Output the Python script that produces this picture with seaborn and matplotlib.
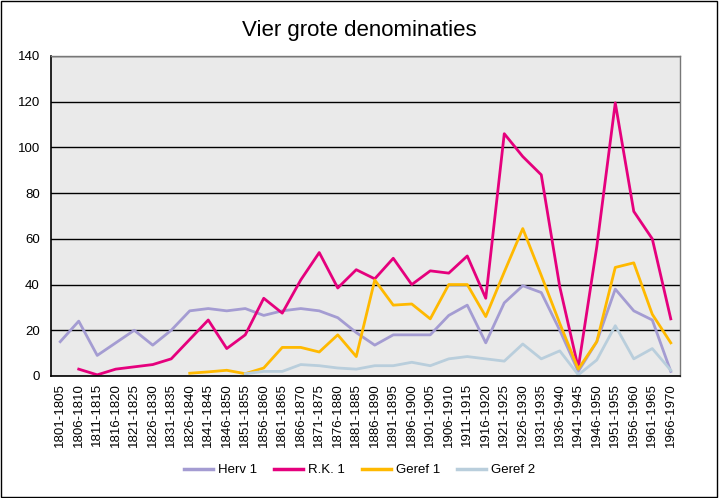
import pandas as pd
import numpy as np
import matplotlib
matplotlib.use("Agg")
import matplotlib.pyplot as plt
import seaborn as sb

# DATA
#-----------------------------------
periods = ["1801-1805", "1806-1810", "1811-1815", "1816-1820", "1821-1825",
           "1826-1830", "1831-1835", "1826-1840", "1841-1845", "1846-1850",
           "1851-1855", "1856-1860", "1861-1865", "1866-1870", "1871-1875",
           "1876-1880", "1881-1885", "1886-1890", "1891-1895", "1896-1900",
           "1901-1905", "1906-1910", "1911-1915", "1916-1920", "1921-1925",
           "1926-1930", "1931-1935", "1936-1940", "1941-1945", "1946-1950",
           "1951-1955", "1956-1960", "1961-1965", "1966-1970"]

herv1 = [15, 24, 9, 14.5, 20, 13.5, 20, 28.5, 29.5, 28.5,
         29.5, 26.5, 28.5, 29.5, 28.5, 25.5, 19, 13.5, 18, 18,
         18, 26.5, 31, 14.5, 32, 39.5, 36.5, 20, 2, 15,
         38, 28.5, 24.5, 2]

rk1 = [None, 3, 0.5, 3, 4, 5, 7.5, 16, 24.5, 12,
       18, 34, 27.5, 42, 54, 38.5, 46.5, 42.5, 51.5, 40,
       46, 45, 52.5, 34, 106, 96, 88, 39, 3.5, 56.5,
       119.5, 72, 60, 25]

geref1 = [None, None, None, None, None, None, None, 1.2, 1.8, 2.5,
          1, 3.5, 12.5, 12.5, 10.5, 18, 8.5, 42, 31, 31.5,
          25, 40, 40, 26, 45.5, 64.5, 44, 23, 3, 15,
          47.5, 49.5, 27, 14.5]

geref2 = [None, None, None, None, None, None, None, None, None, None,
          1, 2, 2, 5, 4.5, 3.5, 3, 4.5, 4.5, 6,
          4.5, 7.5, 8.5, 7.5, 6.5, 14, 7.5, 11, 0.5, 7,
          22, 7.5, 12, 2.5]

series = {"Herv 1": herv1, "R.K. 1": rk1, "Geref 1": geref1, "Geref 2": geref2}
colors = {"Herv 1": "#A49CD2", "R.K. 1": "#E5007D", "Geref 1": "#FFB900", "Geref 2": "#B9CEDC"}

# BUILD TABLE
#-----------------------------------
rows = []
for name, vals in series.items():
    for i, v in enumerate(vals):
        rows.append({"pos": i, "value": v, "serie": name})
df = pd.DataFrame(rows).dropna()

# PLOT
#-----------------------------------
plt.rcParams["font.family"] = ["Liberation Sans", "DejaVu Sans"]
fig = plt.figure(figsize=(7.19, 4.98), dpi=100)
ax = fig.add_axes([0.0709, 0.245, 0.8749, 0.6426])
ax.set_facecolor("#EAEAEA")

sb.lineplot(data=df, x="pos", y="value", hue="serie", palette=colors,
            hue_order=list(series.keys()), linewidth=2.0, ax=ax, legend=False)

ax.set_xlim(-0.5, len(periods) - 0.5)
ax.set_ylim(0, 140)
ax.set_yticks(range(0, 141, 20))
ax.set_xticks(range(len(periods)))
ax.set_xticklabels(periods, rotation=90, fontsize=9.5)
ax.tick_params(axis="y", labelsize=9.5, length=0, pad=8)
ax.tick_params(axis="x", length=0, pad=5)
ax.set_xlabel("")
ax.set_ylabel("")
ax.yaxis.grid(True, color="black", linewidth=1.0)
ax.set_axisbelow(True)
for s in ["left", "bottom"]:
    ax.spines[s].set_color("black")
    ax.spines[s].set_linewidth(1.2)
for s in ["top", "right"]:
    ax.spines[s].set_color("#777777")
    ax.spines[s].set_linewidth(1.0)

fig.suptitle("Vier grote denominaties", y=0.96, fontsize=16)

handles = [plt.Line2D([], [], color=colors[k], linewidth=2.5) for k in series]
fig.legend(handles, list(series.keys()), loc="center", bbox_to_anchor=(0.5, 0.056),
           ncol=4, frameon=False, fontsize=9.5, handlelength=2.2,
           handletextpad=0.35, columnspacing=1.3)

# outer border of the chart area
fig.patches.append(plt.Rectangle((0.001, 0.003), 0.996, 0.994, transform=fig.transFigure,
                                 fill=False, edgecolor="black", linewidth=1.0))

fig.savefig("out.png", dpi=100)
